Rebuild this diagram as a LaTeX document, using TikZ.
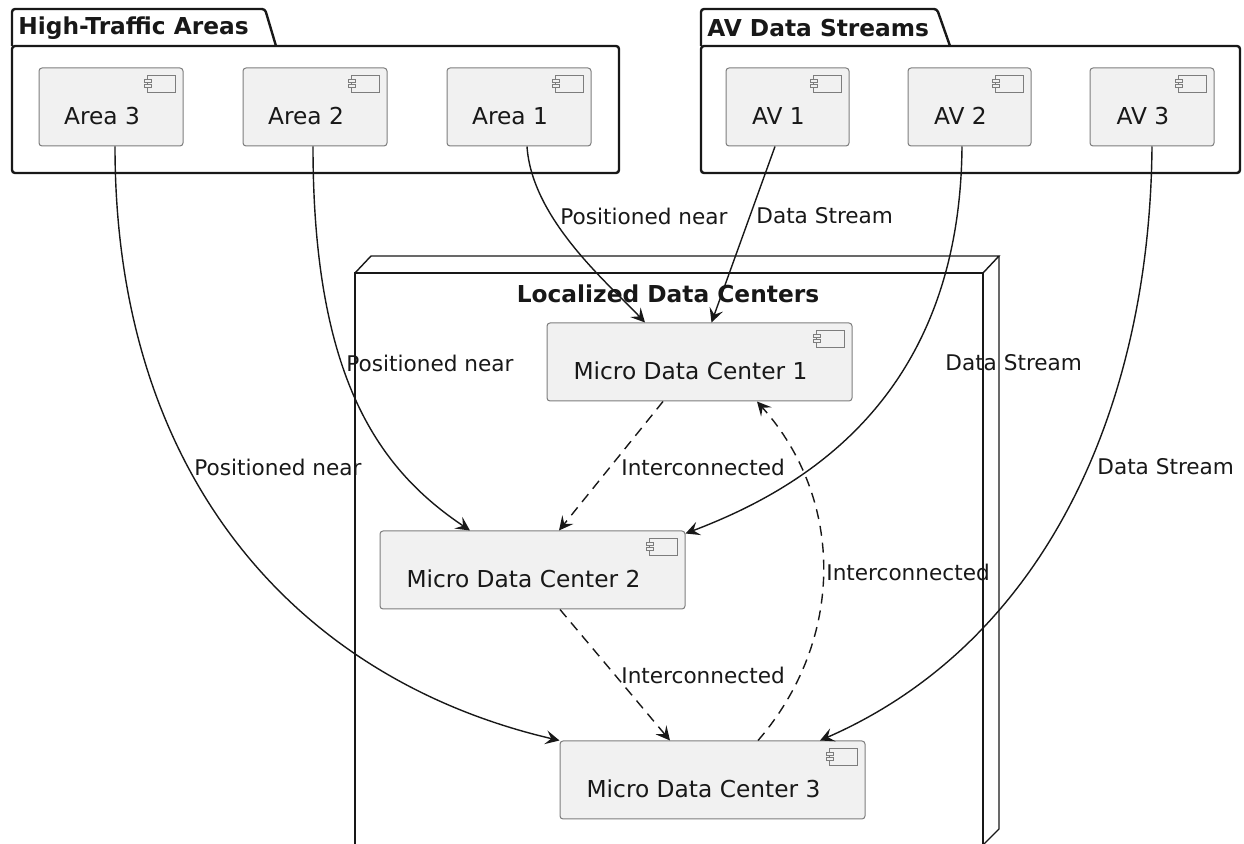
\documentclass[tikz,border=0pt]{standalone}
\usepackage{fontspec}
\setmainfont{DejaVu Sans}
\usepackage{tikz}
\usetikzlibrary{arrows.meta}
\usetikzlibrary{calc}
\definecolor{boxfill}{RGB}{241,241,241}
\definecolor{boxline}{RGB}{125,125,125}
\definecolor{ink}{RGB}{24,24,24}
\tikzset{compicon/.pic={
  \draw[draw=boxline, fill=boxfill, line width=0.5pt] (-36,8) rectangle (-8,25);
  \draw[draw=boxline, fill=boxfill, line width=0.5pt] (-39.5,12) rectangle (-32.5,15);
  \draw[draw=boxline, fill=boxfill, line width=0.5pt] (-39.5,17.5) rectangle (-32.5,20.5);
}}

\begin{document}
\begin{tikzpicture}[x=0.5pt,y=-0.5pt,
  comp/.style={draw=boxline, fill=boxfill, line width=0.5pt, rounded corners=1.5pt, inner sep=0pt, minimum height=39pt},
  ctext/.style={font=\fontsize{11.65}{14}\selectfont, text=ink, inner sep=0pt},
  lbl/.style={font=\fontsize{10.8}{13}\selectfont, text=ink, inner sep=0pt, anchor=west},
  ttl/.style={font=\fontsize{11.65}{14}\selectfont\bfseries, text=ink, inner sep=0pt},
  pkg/.style={draw=ink, line width=1.2pt, rounded corners=1.5pt},
  box3d/.style={draw=ink, line width=0.7pt},
  link/.style={draw=ink, line width=0.7pt, -{Stealth[length=7pt,width=7pt,inset=2.8pt]}},
  ilink/.style={link, dash pattern=on 5pt off 3.5pt}]
\useasboundingbox (0,0) rectangle (1244,844);
%Shape: Package [High-Traffic Areas]
\draw[pkg] (12,46) -- (12,9) -- (265,9) -- (276,46) ;
\draw[pkg] (12,46) rectangle (619,173) ;
% Text Node
\node[ttl, anchor=west] (htatitle) at (18,28) {High-Traffic Areas};
%Shape: Package [AV Data Streams]
\draw[pkg] (701,46) -- (701,9) -- (937,9) -- (950,46) ;
\draw[pkg] (701,46) rectangle (1240,173) ;
% Text Node
\node[ttl, anchor=west] (avtitle) at (707,28) {AV Data Streams};
%Shape: Node [Localized Data Centers]
\draw[box3d] (355,273) rectangle (983,846) ;
\draw[box3d] (355,273) -- (371,256) -- (999,256) -- (983,273) ;
\draw[box3d] (999,256) -- (999,829) -- (983,845) ;
% Text Node
\node[ttl] (ldctitle) at (668,294) {Localized Data Centers};

%Component: Area 3
\node[comp, minimum width=72pt] (area3) at (111,107) {};
\pic at (area3.north east) {compicon};
\node[ctext] (area3t) at ($(area3.center)+(-9,9)$) {Area 3};
%Component: Area 2
\node[comp, minimum width=72pt] (area2) at (315,107) {};
\pic at (area2.north east) {compicon};
\node[ctext] (area2t) at ($(area2.center)+(-9,9)$) {Area 2};
%Component: Area 1
\node[comp, minimum width=72pt] (area1) at (519,107) {};
\pic at (area1.north east) {compicon};
\node[ctext] (area1t) at ($(area1.center)+(-9,9)$) {Area 1};
%Component: AV 1
\node[comp, minimum width=61.5pt] (av1) at (787.5,107) {};
\pic at (av1.north east) {compicon};
\node[ctext] (av1t) at ($(av1.center)+(-9,9)$) {AV 1};
%Component: AV 2
\node[comp, minimum width=61.5pt] (av2) at (969.5,107) {};
\pic at (av2.north east) {compicon};
\node[ctext] (av2t) at ($(av2.center)+(-9,9)$) {AV 2};
%Component: AV 3
\node[comp, minimum width=62pt] (av3) at (1152,107) {};
\pic at (av3.north east) {compicon};
\node[ctext] (av3t) at ($(av3.center)+(-9,9)$) {AV 3};
%Component: Micro Data Center 1
\node[comp, minimum width=152.5pt] (mdc1) at (699.5,362) {};
\pic at (mdc1.north east) {compicon};
\node[ctext] (mdc1t) at ($(mdc1.center)+(-9,9)$) {Micro Data Center 1};
%Component: Micro Data Center 2
\node[comp, minimum width=152.5pt] (mdc2) at (532.5,570) {};
\pic at (mdc2.north east) {compicon};
\node[ctext] (mdc2t) at ($(mdc2.center)+(-9,9)$) {Micro Data Center 2};
%Component: Micro Data Center 3
\node[comp, minimum width=152.5pt] (mdc3) at (712.5,780) {};
\pic at (mdc3.north east) {compicon};
\node[ctext] (mdc3t) at ($(mdc3.center)+(-9,9)$) {Micro Data Center 3};

%Curve Lines [Area 1 -> MDC 1]
\draw[link] ($(area1.south)+(8,0)$) .. controls (532,220) and (610,285) .. ($(mdc1.north)+(-54.5,0)$) ;
%Straight Lines [AV 1 -> MDC 1]
\draw[link] ($(av1.south)+(-12.5,0)$) -- ($(mdc1.north)+(12,0)$) ;
%Curve Lines [Area 2 -> MDC 2]
\draw[link] ($(area2.south)+(-2,0)$) .. controls (313,380) and (380,470) .. ($(mdc2.north)+(-62.5,0)$) ;
%Curve Lines [Area 3 -> MDC 3]
\draw[link] ($(area3.south)+(4,0)$) .. controls (115,480) and (300,680) .. (mdc3.north west) ;
%Curve Lines [AV 2 -> MDC 2]
\draw[link] ($(av2.south)+(-7.5,0)$) .. controls (960,400) and (800,490) .. ($(mdc2.north east)+(0,3)$) ;
%Curve Lines [AV 3 -> MDC 3]
\draw[link] (av3.south) .. controls (1150,400) and (1050,640) .. ($(mdc3.north)+(107.5,0)$) ;
%Dashed Lines [MDC 1 -> MDC 2]
\draw[ilink] ($(mdc1.south)+(-36.5,0)$) -- ($(mdc2.north)+(26.5,0)$) ;
%Dashed Lines [MDC 2 -> MDC 3]
\draw[ilink] ($(mdc2.south)+(27.5,0)$) -- ($(mdc3.north)+(-42.5,0)$) ;
%Dashed Lines [MDC 3 -> MDC 1]
\draw[ilink] ($(mdc3.north)+(45.5,0)$) .. controls (845,640) and (845,500) .. ($(mdc1.south)+(57.5,0)$) ;

% Text Node
\node[lbl] (l1) at (560,216) {Positioned near};
% Text Node
\node[lbl] (l2) at (756,216) {Data Stream};
% Text Node
\node[lbl] (l3) at (346,363) {Positioned near};
% Text Node
\node[lbl] (l4) at (194,467) {Positioned near};
% Text Node
\node[lbl] (l5) at (945,363) {Data Stream};
% Text Node
\node[lbl] (l6) at (1097,467) {Data Stream};
% Text Node
\node[lbl] (l7) at (621,467) {Interconnected};
% Text Node
\node[lbl] (l8) at (826,572) {Interconnected};
% Text Node
\node[lbl] (l9) at (621,675) {Interconnected};
\end{tikzpicture}
\end{document}
